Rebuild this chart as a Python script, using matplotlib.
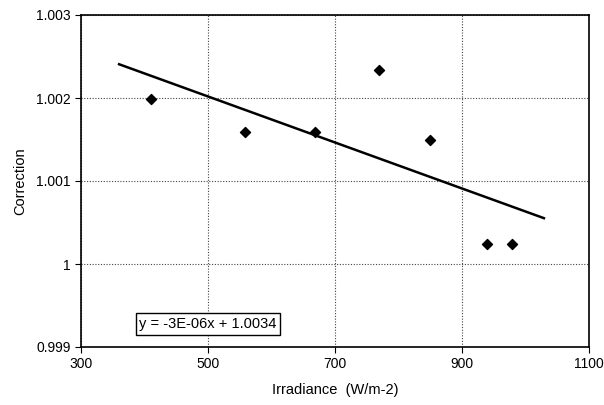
import matplotlib
matplotlib.use("Agg")
import matplotlib.pyplot as plt
import numpy as np

plt.rcParams['font.family'] = ['Liberation Sans', 'DejaVu Sans']

irradiance = [410, 558, 668, 769, 850, 940, 979]
correction = [1.00199, 1.00159, 1.00159, 1.00234, 1.00149, 1.000245, 1.000245]
x_ticks = [300, 500, 700, 900, 1100]
y_ticks = [0.999, 1.0, 1.001, 1.002, 1.003]
y_tick_labels = ["0.999", "1", "1.001", "1.002", "1.003"]
equation_text = "y = -3E-06x + 1.0034"

fig = plt.figure(figsize=(6.04, 4.05), dpi=100)
ax = fig.add_axes([81/604, 1 - 347/405, (589-81)/604, (347-15)/405])

ax.scatter(irradiance, correction, marker='D', s=26, color='black', zorder=3)

slope, intercept = np.polyfit(irradiance, correction, 1)
xl = np.array([min(irradiance) - 50, max(irradiance) + 50])
ax.plot(xl, slope * xl + intercept, color='black', lw=1.8, zorder=2)

ax.set_xlim(300, 1100)
ax.set_ylim(0.999, 1.003)
ax.set_xticks(x_ticks)
ax.set_yticks(y_ticks)
ax.set_yticklabels(y_tick_labels)
ax.grid(True, linestyle=(0, (1, 1.5)), color='#444444', lw=0.8)
ax.tick_params(direction='out', length=4, labelsize=10, colors='black')
for s in ax.spines.values():
    s.set_linewidth(1.2)

ax.set_xlabel("Irradiance  (W/m-2)", fontsize=10.5, labelpad=8)
ax.set_ylabel("Correction", fontsize=10.5, labelpad=6)

ax.text(0.115, 0.069, equation_text, transform=ax.transAxes, fontsize=10.5,
        ha='left', va='center',
        bbox=dict(boxstyle='square,pad=0.25', fc='white', ec='black', lw=1))

fig.savefig("out.png", dpi=100)
